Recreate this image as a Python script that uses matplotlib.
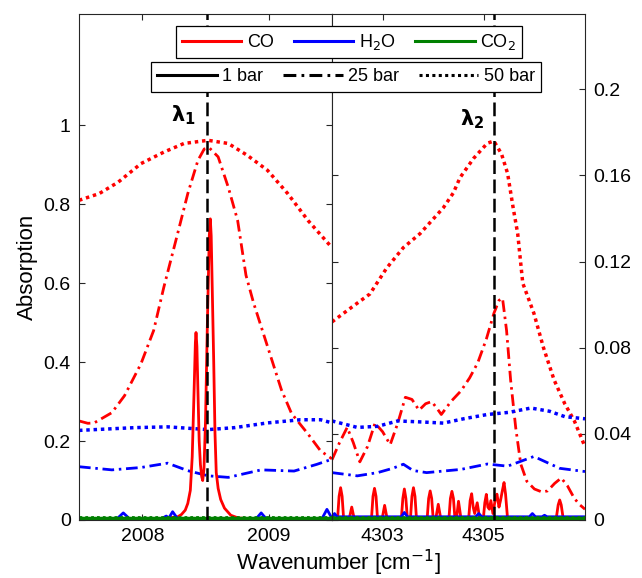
import matplotlib
matplotlib.use("Agg")
import matplotlib.pyplot as plt
from matplotlib.lines import Line2D
from matplotlib.ticker import FixedLocator, FormatStrFormatter

plt.rcParams['font.family'] = ['Liberation Sans', 'DejaVu Sans']

# ---------------- data: left panel (2007.5 - 2009.5 cm-1), left axis ----------------
co_1bar_l_x = [2007.50, 2007.85, 2008.10, 2008.28, 2008.31, 2008.34, 2008.36, 2008.38, 2008.395,
               2008.41, 2008.42, 2008.425, 2008.432, 2008.44, 2008.45, 2008.46, 2008.47, 2008.478,
               2008.488, 2008.50, 2008.515, 2008.53, 2008.538, 2008.545, 2008.555, 2008.565, 2008.575,
               2008.585, 2008.60, 2008.62, 2008.65, 2008.70, 2008.76, 2009.00, 2009.50]
co_1bar_l_y = [0.002, 0.003, 0.002, 0.008, 0.014, 0.025, 0.042, 0.075, 0.16,
               0.33, 0.45, 0.475, 0.44, 0.33, 0.20, 0.14, 0.11, 0.10,
               0.13, 0.25, 0.50, 0.72, 0.763, 0.72, 0.56, 0.40, 0.22,
               0.12, 0.08, 0.052, 0.03, 0.012, 0.005, 0.002, 0.002]

co_25bar_l_x = [2007.50, 2007.57, 2007.62, 2007.76, 2007.86, 2007.99, 2008.09, 2008.17, 2008.28, 2008.36,
                2008.44, 2008.49, 2008.53, 2008.60, 2008.68, 2008.754, 2008.82, 2008.88, 2008.95, 2009.03,
                2009.10, 2009.18, 2009.31, 2009.41, 2009.50]
co_25bar_l_y = [0.251, 0.245, 0.246, 0.272, 0.315, 0.396, 0.48, 0.589, 0.726, 0.827,
                0.911, 0.94, 0.943, 0.92, 0.843, 0.759, 0.62, 0.55, 0.48, 0.40,
                0.33, 0.27, 0.218, 0.175, 0.155]

co_50bar_l_x = [2007.50, 2007.66, 2007.81, 2007.99, 2008.17, 2008.33, 2008.52, 2008.68, 2008.83, 2008.99,
                2009.15, 2009.31, 2009.50]
co_50bar_l_y = [0.81, 0.827, 0.856, 0.903, 0.932, 0.954, 0.962, 0.954, 0.924, 0.886,
                0.827, 0.759, 0.69]

h2o_1bar_l_x = [2007.50, 2007.80, 2007.85, 2007.90, 2008.15, 2008.19, 2008.21, 2008.24, 2008.28,
                2008.90, 2008.94, 2008.98, 2009.42, 2009.46, 2009.50]
h2o_1bar_l_y = [0.003, 0.003, 0.018, 0.003, 0.003, 0.010, 0.005, 0.021, 0.003,
                0.003, 0.018, 0.003, 0.003, 0.027, 0.004]

h2o_25bar_l_x = [2007.50, 2007.76, 2007.99, 2008.20, 2008.36, 2008.52, 2008.68, 2008.94, 2009.20, 2009.38, 2009.50]
h2o_25bar_l_y = [0.135, 0.127, 0.133, 0.144, 0.125, 0.112, 0.108, 0.127, 0.124, 0.141, 0.154]

h2o_50bar_l_x = [2007.50, 2007.94, 2008.20, 2008.52, 2008.73, 2008.99, 2009.25, 2009.41, 2009.50]
h2o_50bar_l_y = [0.227, 0.234, 0.236, 0.229, 0.234, 0.246, 0.254, 0.254, 0.246]

co2_l_x = [2007.50, 2009.50]
co2_1bar_l_y = [0.004, 0.004]
co2_25bar_l_y = [0.005, 0.005]
co2_50bar_l_y = [0.007, 0.007]

# ---------------- data: right panel (4302 - 4307 cm-1), right axis ----------------
co_1bar_r_x = [4302.00, 4302.11, 4302.14, 4302.17, 4302.20, 4302.23, 4302.34, 4302.39, 4302.44,
               4302.78, 4302.81, 4302.84, 4302.87, 4302.90, 4302.99, 4303.04, 4303.09,
               4303.37, 4303.40, 4303.43, 4303.46, 4303.49, 4303.55, 4303.58, 4303.61, 4303.64, 4303.67,
               4303.88, 4303.91, 4303.94, 4303.97, 4304.00, 4304.05, 4304.10, 4304.15,
               4304.31, 4304.34, 4304.37, 4304.40, 4304.43, 4304.46, 4304.50, 4304.55,
               4304.70, 4304.73, 4304.76, 4304.79, 4304.82, 4304.87, 4304.92, 4304.99,
               4305.02, 4305.05, 4305.08, 4305.11, 4305.14, 4305.18, 4305.23, 4305.26, 4305.30,
               4305.33, 4305.37, 4305.40, 4305.43, 4305.47, 4306.43, 4306.47, 4306.50, 4306.53, 4306.57,
               4307.00]
co_1bar_r_y = [0.0005, 0.0005, 0.011, 0.0150, 0.011, 0.0005, 0.0005, 0.0060, 0.0005,
               0.0005, 0.011, 0.0147, 0.011, 0.0005, 0.0005, 0.0068, 0.0005,
               0.0005, 0.010, 0.0144, 0.010, 0.0005, 0.0005, 0.011, 0.0150, 0.011, 0.0005,
               0.0005, 0.010, 0.0135, 0.010, 0.0005, 0.0005, 0.0073, 0.0005,
               0.0005, 0.010, 0.0133, 0.010, 0.0005, 0.0005, 0.0087, 0.0005,
               0.0005, 0.009, 0.0122, 0.006, 0.0030, 0.0080, 0.0005, 0.0005,
               0.008, 0.0119, 0.006, 0.0050, 0.0090, 0.0030, 0.010, 0.0120, 0.0060,
               0.0090, 0.014, 0.0174, 0.012, 0.0005, 0.0005, 0.007, 0.0093, 0.007, 0.0005,
               0.0005]

co_25bar_r_x = [4302.00, 4302.15, 4302.30, 4302.42, 4302.55, 4302.70, 4302.85, 4303.00, 4303.15, 4303.30,
                4303.45, 4303.58, 4303.72, 4303.85, 4303.97, 4304.07, 4304.16, 4304.35, 4304.55, 4304.72,
                4304.88, 4305.05, 4305.20, 4305.30, 4305.37, 4305.45, 4305.53, 4305.63, 4305.73, 4305.85,
                4306.00, 4306.15, 4306.26, 4306.40, 4306.53, 4306.65, 4306.79, 4306.90, 4307.00]
co_25bar_r_y = [0.028, 0.036, 0.043, 0.036, 0.027, 0.034, 0.045, 0.041, 0.035, 0.045,
                0.057, 0.056, 0.051, 0.054, 0.055, 0.052, 0.049, 0.055, 0.060, 0.066,
                0.073, 0.084, 0.096, 0.102, 0.103, 0.088, 0.065, 0.043, 0.026, 0.018,
                0.0144, 0.013, 0.0135, 0.017, 0.0195, 0.016, 0.010, 0.007, 0.005]

co_50bar_r_x = [4302.00, 4302.40, 4302.75, 4303.08, 4303.41, 4303.74, 4304.20, 4304.40, 4304.53, 4304.80,
                4305.07, 4305.20, 4305.35, 4305.47, 4305.58, 4305.67, 4305.77, 4305.99, 4306.18, 4306.39,
                4306.60, 4306.79, 4307.00]
co_50bar_r_y = [0.092, 0.099, 0.105, 0.117, 0.1265, 0.133, 0.145, 0.152, 0.159, 0.168,
                0.175, 0.176, 0.170, 0.161, 0.145, 0.133, 0.110, 0.096, 0.080, 0.065,
                0.054, 0.046, 0.034]

h2o_1bar_r_x = [4302.00, 4302.05, 4302.10, 4303.37, 4303.43, 4303.49, 4304.84, 4304.90, 4304.96,
                4305.90, 4305.96, 4306.02, 4306.15, 4306.20, 4306.25, 4307.00]
h2o_1bar_r_y = [0.0015, 0.0030, 0.0015, 0.0015, 0.0035, 0.0015, 0.0015, 0.0030, 0.0015,
                0.0015, 0.0030, 0.0015, 0.0015, 0.0022, 0.0015, 0.0015]

h2o_25bar_r_x = [4302.00, 4302.50, 4302.90, 4303.20, 4303.41, 4303.60, 4303.87, 4304.55, 4305.07,
                 4305.47, 4305.99, 4306.50, 4307.00]
h2o_25bar_r_y = [0.022, 0.0205, 0.022, 0.024, 0.0259, 0.023, 0.022, 0.0235, 0.026,
                 0.025, 0.0295, 0.024, 0.0225]

h2o_50bar_r_x = [4302.00, 4302.50, 4302.90, 4303.30, 4303.80, 4304.20, 4304.60, 4305.07, 4305.50,
                 4305.93, 4306.30, 4306.60, 4307.00]
h2o_50bar_r_y = [0.046, 0.043, 0.0435, 0.046, 0.0455, 0.045, 0.047, 0.049, 0.050,
                 0.052, 0.0505, 0.048, 0.047]

co2_r_x = [4302.00, 4307.00]
co2_1bar_r_y = [0.0008, 0.0008]
co2_25bar_r_y = [0.0010, 0.0010]
co2_50bar_r_y = [0.0013, 0.0013]

lambda_1 = 2008.51
lambda_2 = 4305.21

left_yticks = [0, 0.2, 0.4, 0.6, 0.8, 1.0]
right_yticks = [0, 0.04, 0.08, 0.12, 0.16, 0.2]
left_xticks = [2008, 2009]
right_xticks = [4303, 4305]

species_labels = ['CO', 'H$_2$O', 'CO$_2$']
pressure_labels = ['1 bar', '25 bar', '50 bar']

# ---------------- styles ----------------
RED, BLUE, GREEN = '#ff0000', '#0000ff', '#008000'
SOLID = '-'
DASHDOT = (0, (4.2, 1.7, 0.9, 1.7))
DOTTED = (0, (1, 1.1))
LW = 2.0
LW_DOT = 2.5
AXCOL = '#262626'


def style_axis(ax):
    for sp in ax.spines.values():
        sp.set_color(AXCOL)
        sp.set_linewidth(0.8)
    ax.tick_params(direction='in', length=4, width=0.8, color=AXCOL,
                   top=True, bottom=True, left=True, right=True, labelsize=14, pad=6)


fig = plt.figure(figsize=(6.42, 5.78), dpi=100)
ax_l = fig.add_axes([79 / 642, 58 / 578, 253 / 642, 506 / 578])
ax_r = fig.add_axes([332 / 642, 58 / 578, 253 / 642, 506 / 578])

# left panel
ax_l.plot(co_50bar_l_x, co_50bar_l_y, color=RED, lw=LW_DOT, ls=DOTTED)
ax_l.plot(co_25bar_l_x, co_25bar_l_y, color=RED, lw=LW, ls=DASHDOT)
ax_l.plot(h2o_50bar_l_x, h2o_50bar_l_y, color=BLUE, lw=LW_DOT, ls=DOTTED)
ax_l.plot(h2o_25bar_l_x, h2o_25bar_l_y, color=BLUE, lw=LW, ls=DASHDOT)
ax_l.plot(co_1bar_l_x, co_1bar_l_y, color=RED, lw=LW, ls=SOLID)
ax_l.plot(h2o_1bar_l_x, h2o_1bar_l_y, color=BLUE, lw=LW, ls=SOLID)
ax_l.plot(co2_l_x, co2_1bar_l_y, color=GREEN, lw=LW + 0.5, ls=SOLID)
ax_l.plot(co2_l_x, co2_25bar_l_y, color=GREEN, lw=LW, ls=DASHDOT)
ax_l.plot(co2_l_x, co2_50bar_l_y, color=GREEN, lw=LW, ls=DOTTED)
ax_l.axvline(lambda_1, color='black', lw=1.8, ls=(0, (5.5, 2.2)), zorder=5)
ax_l.text(lambda_1 - 0.09, 1.025, r'$\boldsymbol{\lambda}_\mathbf{1}$', fontsize=15,
          ha='right', va='center')
ax_l.set_xlim(2007.5, 2009.5)
ax_l.set_ylim(0, 1.282)
ax_l.xaxis.set_major_locator(FixedLocator(left_xticks))
ax_l.yaxis.set_major_locator(FixedLocator(left_yticks))
ax_l.yaxis.set_major_formatter(FormatStrFormatter('%g'))
style_axis(ax_l)
ax_l.tick_params(labelright=False)
ax_l.set_ylabel('Absorption', fontsize=16, labelpad=4)

# right panel
ax_r.plot(co_50bar_r_x, co_50bar_r_y, color=RED, lw=LW_DOT, ls=DOTTED)
ax_r.plot(co_25bar_r_x, co_25bar_r_y, color=RED, lw=LW, ls=DASHDOT)
ax_r.plot(h2o_50bar_r_x, h2o_50bar_r_y, color=BLUE, lw=LW_DOT, ls=DOTTED)
ax_r.plot(h2o_25bar_r_x, h2o_25bar_r_y, color=BLUE, lw=LW, ls=DASHDOT)
ax_r.plot(co_1bar_r_x, co_1bar_r_y, color=RED, lw=LW, ls=SOLID)
ax_r.plot(h2o_1bar_r_x, h2o_1bar_r_y, color=BLUE, lw=LW, ls=SOLID)
ax_r.plot(co2_r_x, co2_1bar_r_y, color=GREEN, lw=LW + 0.5, ls=SOLID)
ax_r.plot(co2_r_x, co2_25bar_r_y, color=GREEN, lw=LW, ls=DASHDOT)
ax_r.plot(co2_r_x, co2_50bar_r_y, color=GREEN, lw=LW, ls=DOTTED)
ax_r.axvline(lambda_2, color='black', lw=1.8, ls=(0, (5.5, 2.2)), zorder=5)
ax_r.text(lambda_2 - 0.2, 0.186, r'$\boldsymbol{\lambda}_\mathbf{2}$', fontsize=15,
          ha='right', va='center')
ax_r.set_xlim(4302.0, 4307.0)
ax_r.set_ylim(0, 0.235)
ax_r.xaxis.set_major_locator(FixedLocator(right_xticks))
ax_r.yaxis.set_major_locator(FixedLocator(right_yticks))
ax_r.yaxis.set_major_formatter(FormatStrFormatter('%g'))
style_axis(ax_r)
ax_r.tick_params(labelleft=False, labelright=True)

fig.text(338 / 642, 1 - 563 / 578, 'Wavenumber [cm$^{-1}$]', fontsize=16, ha='center', va='center')

# legends
species_handles = [Line2D([], [], color=c, lw=2.2) for c in (RED, BLUE, GREEN)]
pressure_handles = [Line2D([], [], color='black', lw=2.2, ls=s) for s in (SOLID, DASHDOT, DOTTED)]
leg_kw = dict(ncol=3, loc='center', fontsize=13, frameon=True, fancybox=False,
              edgecolor='black', framealpha=1, handlelength=3.3, handletextpad=0.3,
              columnspacing=1.1, borderpad=0.35, borderaxespad=0)
leg1 = fig.legend(species_handles, species_labels, bbox_to_anchor=(349 / 642, 1 - 42 / 578), **leg_kw)
leg2 = fig.legend(pressure_handles, pressure_labels, bbox_to_anchor=(346 / 642, 1 - 77 / 578), **leg_kw)
for lg in (leg1, leg2):
    lg.get_frame().set_linewidth(0.9)

fig.savefig('out.png', dpi=100)
